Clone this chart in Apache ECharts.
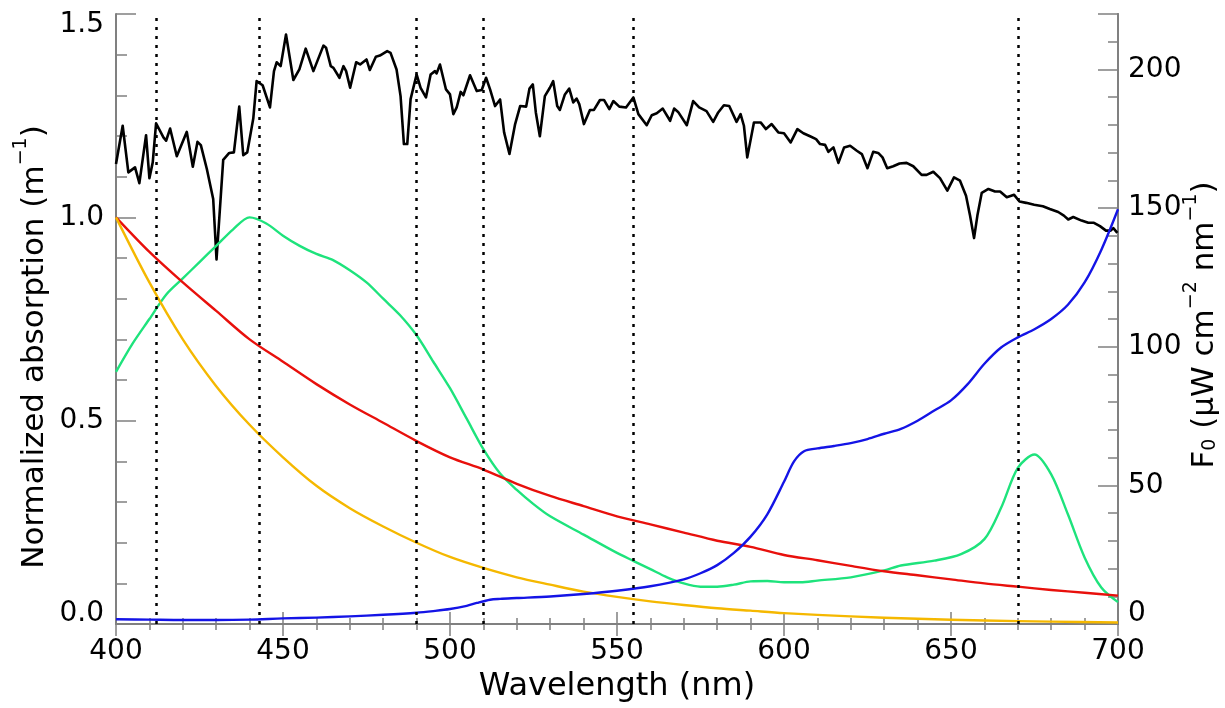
<!DOCTYPE html>
<html><head><meta charset="utf-8">
<script src="https://cdn.jsdelivr.net/npm/echarts@6/dist/echarts.min.js"></script>
<style>html,body{margin:0;padding:0;background:#fff;overflow:hidden;width:1225px;height:708px}#c{width:1225px;height:708px}</style>
</head><body><div id="c"></div>
<script>
// Solar irradiance F0 (right axis)
const F0_wl = [400,402,403.7,405.7,407,409,410,411,412,414.2,415,416.2,418.2,421.2,423,424.4,425.4,427.2,429.1,430.1,432.1,433.9,435.3,436.9,438.1,439.3,441.1,442.1,443.9,446.1,447.3,448.1,449.3,450.9,453.1,454.9,456.8,459.1,462.1,462.9,464.3,465.1,466.9,468.1,468.9,470.1,471.9,473.1,475,476,477.8,479,481.2,482.2,484,485.2,486.2,487.2,488.2,490,491.2,492.8,494.2,495.5,496,497,498.8,500,501,502,503.2,504,506,508,509.5,510.8,512,513.5,515,516.2,517.8,519.5,521,522.8,523.8,524.8,525.7,526.9,528.4,529.9,530.9,532.1,532.9,534.4,535.7,536.9,537.9,538.7,540.1,541.9,543.1,544.9,546.1,547.7,548.9,550.7,552.7,554.9,556.4,558.9,560.4,561.9,563.7,565.9,567.1,568.3,570.9,572.8,574.6,576.8,578.8,580.3,582,583.6,585.8,587,588,589,591,593,594.6,596.3,598.3,600,602,604,605.8,607.8,609.6,610.8,612.3,613.3,614.8,616.3,618,619.8,621.8,623.3,625,626.7,628.2,629.5,630.9,632.7,634.6,636.7,638.7,641.2,642.7,644.7,646.7,648.9,650.9,652.7,654.5,655.7,656.9,657.9,659.2,661.2,663.2,664.7,666.7,668.9,670.5,672.5,674.9,677.5,679.6,682.1,683.8,685.1,686.6,689.1,691.1,692.8,694.6,696.4,697.8,698.6,699.8];
const F0_val = [165.9,179.7,162.9,164.7,159.0,176.3,160.8,166.5,180.6,175.5,174.3,178.7,168.7,177.5,164.9,173.9,172.7,164.1,153.3,131.5,167.4,169.9,170.1,186.6,169.1,170.1,182.3,195.8,194.3,186.3,199.4,202.6,201.2,212.6,196.2,200.0,207.5,199.4,208.6,207.8,201.2,200.6,197.0,201.2,199.4,193.4,202.6,201.8,203.6,199.8,204.6,205.0,206.6,206.0,200.0,190.4,173.1,173.1,189.3,198.2,193.4,189.9,198.2,199.4,198.6,201.8,192.8,191.0,183.9,186.3,191.9,190.7,197.9,192.2,192.6,197.0,192.8,186.8,189.2,177.3,169.5,180.3,186.8,186.6,193.1,194.6,184.5,175.9,190.4,193.4,195.8,186.8,185.4,191.0,193.1,188.1,189.5,187.5,180.3,185.4,185.4,189.0,189.0,185.7,188.6,186.6,186.3,189.9,183.9,179.9,183.5,184.2,185.9,181.5,185.9,184.7,179.9,188.6,186.3,185.0,181.1,184.5,187.1,186.8,181.1,183.9,179.7,168.3,180.9,180.9,178.5,180.3,177.3,177.0,173.7,178.5,177.0,175.9,174.9,173.1,172.8,170.3,171.9,166.3,171.9,172.5,170.7,169.5,164.4,170.3,169.9,168.3,164.4,165.1,166.1,166.3,165.1,162.0,162.0,163.1,160.8,156.3,161.1,159.9,154.5,147.3,139.2,147.3,155.5,156.9,156.0,156.0,153.9,154.8,152.4,151.9,151.2,150.7,149.7,148.6,147.3,145.9,146.8,145.5,144.7,144.7,143.5,141.9,141.9,142.8,141.1];

// Phytoplankton (green)
const chl_wl = [400,405,410,415,420,425,430,435,440,445,450,455,460,465,470,475,480,485,490,495,500,505,510,515,520,525,530,540,550,555,560,565,570,575,580,585,590,595,600,605,610,620,630,635,645,653,660,665,670,675,680,685,690,695,700];
const chl_val = [0.62,0.69,0.75,0.81,0.85,0.89,0.93,0.97,1.0,0.985,0.955,0.93,0.91,0.895,0.87,0.84,0.80,0.76,0.71,0.645,0.58,0.505,0.43,0.37,0.33,0.295,0.265,0.22,0.175,0.155,0.135,0.115,0.10,0.092,0.092,0.097,0.105,0.106,0.103,0.103,0.107,0.115,0.132,0.144,0.156,0.172,0.209,0.286,0.384,0.417,0.368,0.27,0.164,0.09,0.054];

// CDOM (red)
const cdom_wl = [400,410,420,430,440,450,460,470,480,490,500,510,520,530,540,550,560,570,580,590,600,610,620,630,640,650,660,670,680,690,700];
const cdom_val = [1.0,0.915,0.84,0.77,0.70,0.645,0.59,0.54,0.495,0.45,0.41,0.38,0.345,0.315,0.29,0.265,0.245,0.225,0.205,0.19,0.17,0.157,0.143,0.13,0.12,0.11,0.10,0.092,0.084,0.077,0.07];

// Detritus (yellow)
const det_wl = [400,410,420,430,440,450,460,470,480,490,500,510,520,530,540,550,560,570,580,590,600,620,640,660,680,700];
const det_val = [1.0,0.84,0.70,0.585,0.49,0.41,0.34,0.285,0.24,0.20,0.165,0.138,0.115,0.097,0.08,0.067,0.056,0.047,0.039,0.033,0.027,0.019,0.013,0.009,0.006,0.004];

// Water (blue)
const w_wl = [400,410,420,430,440,450,460,470,480,490,495,500,505,508,512,515,520,530,540,550,560,570,575,580,585,590,595,600,603,606,610,615,620,625,630,635,640,645,650,655,660,665,670,675,680,685,690,695,700];
const w_val = [0.012,0.011,0.01,0.01,0.011,0.014,0.016,0.019,0.023,0.028,0.032,0.037,0.045,0.052,0.06,0.062,0.064,0.068,0.074,0.082,0.093,0.11,0.125,0.145,0.175,0.215,0.27,0.35,0.4,0.425,0.432,0.438,0.445,0.455,0.468,0.48,0.5,0.525,0.55,0.59,0.64,0.68,0.705,0.725,0.75,0.785,0.84,0.92,1.02];

// Band wavelengths (dotted lines)
const bands = [412,443,490,510,555,670];
const leftTicks = [0, 0.5, 1.0, 1.5];
const rightTickLabels = [0, 50, 100, 150, 200];
const leftTitle = ['Normalized absorption (m', '−1', ')'];
const rightTitle = ['F', '0', ' (μW cm', '−2', ' nm', '−1', ')'];

const pairs = (xs, ys) => xs.map((x, i) => [x, ys[i]]);
const FONT = 'DejaVu Sans, Verdana, sans-serif';
const AX = '#808080';
const axLine = {show: true, lineStyle: {color: AX, width: 2}};

const chart = echarts.init(document.getElementById('c'), null, {renderer: 'canvas', width: 1225, height: 708});
const lineS = (name, xs, ys, color, yi, w, smooth) => ({
  name, type: 'line', xAxisIndex: 0, yAxisIndex: yi, data: pairs(xs, ys),
  showSymbol: false, symbol: 'none', smooth: smooth,
  lineStyle: {color, width: w, join: 'round'}, itemStyle: {color}, z: 3
});

const f0 = lineS('F0', F0_wl, F0_val, '#000000', 1, 2.6, false);
f0.z = 2;
f0.markLine = {
  silent: true, symbol: ['none', 'none'], label: {show: false},
  lineStyle: {color: '#000', type: [3, 6], width: 2.5, cap: 'butt'},
  data: bands.map(b => ({xAxis: b}))
};

const supRich = {
  a: {fontSize: 31, fontFamily: FONT, color: '#000', lineHeight: 38, verticalAlign: 'bottom'},
  b: {fontSize: 19, fontFamily: FONT, color: '#000', lineHeight: 19, verticalAlign: 'bottom'},
  s: {fontSize: 19, fontFamily: FONT, color: '#000', lineHeight: 19, verticalAlign: 'top'}
};
const tickRich = {
  lo: {fontSize: 28, fontFamily: FONT, color: '#000', padding: [0, 0, 20, 0]},
  hi: {fontSize: 28, fontFamily: FONT, color: '#000', padding: [22, 0, 0, 0]}
};

chart.setOption({
  animation: false,
  backgroundColor: '#fff',
  textStyle: {fontFamily: FONT},
  grid: {left: 116, right: 107, top: 14, bottom: 81, containLabel: false},
  xAxis: [
    {type: 'value', min: 400, max: 700, interval: 50, position: 'bottom',
     axisLine: axLine,
     axisTick: {show: true, inside: true, length: 12, lineStyle: {color: AX, width: 1.5}},
     minorTick: {show: true, splitNumber: 5, length: 6, lineStyle: {color: AX, width: 1.5}},
     splitLine: {show: false},
     axisLabel: {fontSize: 28, color: '#000', margin: 14, fontFamily: FONT},
     name: 'Wavelength (nm)', nameLocation: 'middle', nameGap: 44,
     nameTextStyle: {fontSize: 32, color: '#000', fontFamily: FONT}},
    {type: 'value', min: 400, max: 700, interval: 50, position: 'top',
     axisLine: axLine,
     axisTick: {show: true, inside: true, length: 12, lineStyle: {color: AX, width: 1.5}},
     minorTick: {show: true, splitNumber: 5, length: 6, lineStyle: {color: AX, width: 1.5}},
     splitLine: {show: false}, axisLabel: {show: false}}
  ],
  yAxis: [
    {type: 'value', min: 0, max: 1.5, interval: 0.5, position: 'left',
     axisLine: axLine,
     axisTick: {show: true, inside: true, length: 20, lineStyle: {color: AX, width: 1.5}},
     minorTick: {show: true, splitNumber: 5, length: 11, lineStyle: {color: AX, width: 1.5}},
     splitLine: {show: false},
     axisLabel: {fontSize: 28, color: '#000', margin: 12, fontFamily: FONT,
       customValues: leftTicks, rich: tickRich,
       formatter: v => v === 0 ? '{lo|0.0}' : (v === 1.5 ? '{hi|1.5}' : v.toFixed(1))}},
    {type: 'value', min: 0, max: 220, interval: 10, position: 'right',
     axisLine: axLine,
     axisTick: {show: true, inside: true, length: 10, lineStyle: {color: AX, width: 1.5}},
     splitLine: {show: false},
     axisLabel: {fontSize: 28, color: '#000', margin: 10, fontFamily: FONT,
       customValues: rightTickLabels, rich: tickRich,
       formatter: v => v === 0 ? '{lo|0}' : String(v)}},
    {type: 'value', min: 0, max: 220, interval: 50, position: 'right',
     axisLine: axLine,
     axisTick: {show: true, inside: true, length: 20, lineStyle: {color: AX, width: 1.5}},
     splitLine: {show: false}, axisLabel: {show: false}}
  ],
  graphic: [
    {type: 'text', x: 31, y: 347, rotation: Math.PI / 2, silent: true,
     style: {text: '{a|' + leftTitle[0] + '}{s|' + leftTitle[1] + '}{a|' + leftTitle[2] + '}',
             rich: supRich, align: 'center', verticalAlign: 'middle'}},
    {type: 'text', x: 1201, y: 325, rotation: Math.PI / 2, silent: true,
     style: {text: '{a|' + rightTitle[0] + '}{b|' + rightTitle[1] + '}{a|' + rightTitle[2] + '}{s|' + rightTitle[3] + '}{a|' + rightTitle[4] + '}{s|' + rightTitle[5] + '}{a|' + rightTitle[6] + '}',
             rich: supRich, align: 'center', verticalAlign: 'middle'}}
  ],
  series: [
    f0,
    lineS('Phytoplankton', chl_wl, chl_val, '#1ee37c', 0, 2.4, 0.3),
    lineS('CDOM', cdom_wl, cdom_val, '#e8100c', 0, 2.4, 0.3),
    lineS('Detritus', det_wl, det_val, '#f5b800', 0, 2.4, 0.3),
    lineS('Water', w_wl, w_val, '#1414e6', 0, 2.4, 0.3)
  ]
});
</script></body></html>
